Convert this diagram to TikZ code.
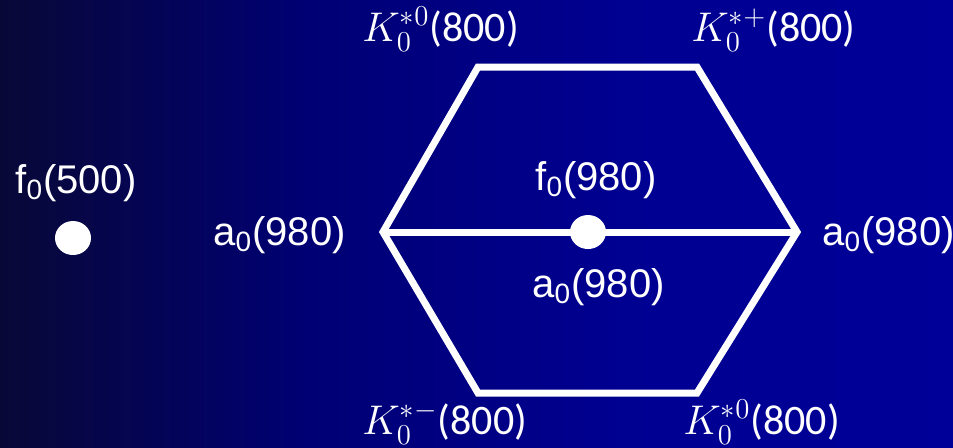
\documentclass[tikz,border=0pt]{standalone}
\usepackage{fontspec}
\setmainfont{Liberation Sans}
\newfontfamily\calfont{Carlito}
\usetikzlibrary{shapes.geometric}
\definecolor{bgdark}{RGB}{8, 8, 55}
\definecolor{bgmid}{RGB}{0, 0, 115}
\definecolor{bgblue}{RGB}{0, 0, 145}
\definecolor{bgright}{RGB}{0, 0, 152}

\tikzset{
	lbl/.style={text=white, inner sep=0pt, font=\fontsize{20}{24}\selectfont},
	kstar/.style={text=white, inner sep=0pt, font=\fontsize{21}{25}\selectfont},
	dot/.style={ellipse, fill=white, inner sep=0pt, minimum width=18pt, minimum height=16pt},
	hexline/.style={white, line width=3.5pt, line join=miter},
}

\begin{document}
\begin{tikzpicture}[x=0.5pt, y=-0.5pt]
	% --- background ---
	\shade[left color=bgdark, right color=bgmid]   (0,0)   rectangle (301,447);
	\shade[left color=bgmid, right color=bgblue]   (300,0) rectangle (621,447);
	\shade[left color=bgblue, right color=bgright] (620,0) rectangle (953,447);
	\useasboundingbox (0,0) rectangle (953,447);

	% --- hexagon corners ---
	\coordinate (tl) at (478,67);
	\coordinate (tr) at (697,67);
	\coordinate (r)  at (797,232);
	\coordinate (br) at (697,393);
	\coordinate (bl) at (478,393);
	\coordinate (l)  at (383,232);

	\draw[hexline] (tl) -- (tr) -- (r) -- (br) -- (bl) -- (l) -- cycle;
	\draw[hexline] (l) -- (r);

	% --- states ---
	\node[dot, minimum height=17pt] (fnine) at (588,232) {};
	\node[dot, minimum height=17pt] (sigma) at (73,238) {};

	% --- labels ---
	\node[lbl, anchor=base west] (sigmalbl) at (15,193) {f\textsubscript{0}(500)};
	\node[lbl, anchor=base west] (aleft)  at (213,245) {a\textsubscript{0}(980)};
	\node[lbl, anchor=base west] (aright) at (822,245) {a\textsubscript{0}(980)};
	\node[lbl, anchor=base west] (fninelbl) at (535,190) {f\textsubscript{0}(980)};
	\node[lbl, anchor=base west] (aninelbl) at (532,297) {a\textsubscript{0}(980)};

	\node[kstar, anchor=base west] (ktl) at (362,41)  {$K_0^{*0}${\calfont(800)}};
	\node[kstar, anchor=base west] (ktr) at (691,41)  {$K_0^{*+}${\calfont(800)}};
	\node[kstar, anchor=base west] (kbl) at (362,434) {$K_0^{*-}${\calfont(800)}};
	\node[kstar, anchor=base west] (kbr) at (683,434) {$K_0^{*0}${\calfont(800)}};
\end{tikzpicture}
\end{document}
